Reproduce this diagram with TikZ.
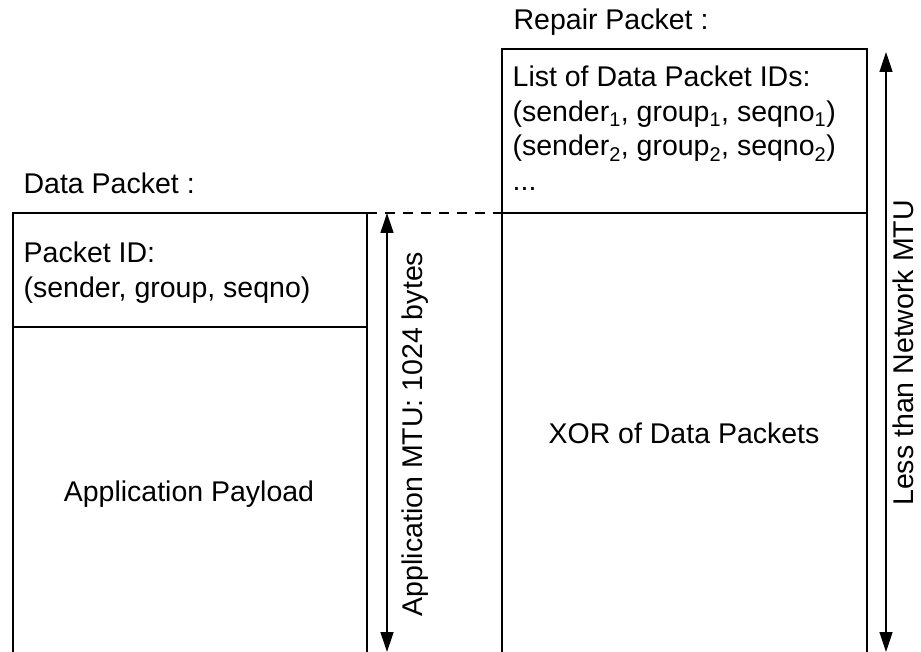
\documentclass[tikz,border=0pt]{standalone}
\usepackage{fontspec}
\setmainfont{Liberation Sans}
\usetikzlibrary{arrows.meta}

\begin{document}
\begin{tikzpicture}[x=1pt,y=-1pt,line width=1.3pt,
  >={Triangle[length=20pt,width=13pt]},
  every node/.style={inner sep=0pt,font=\fontsize{28.5}{34.5}\selectfont},
  txt/.style={anchor=base west}]
  \useasboundingbox (0,0) rectangle (921,652);
  % data packet
  \coordinate (dtl) at (13,213);
  \coordinate (dtr) at (367,213);
  \draw (13,652) -- (dtl) -- (dtr) -- (367,652);
  \draw (13,327) -- (367,327);
  \node [txt] (dtitle) at (23,194) {Data Packet :};
  \node [txt] (pid) at (23,263) {Packet ID:};
  \node [txt] (pidval) at (23,298) {(sender, group, seqno)};
  \node [anchor=base] (payload) at (189,501) {Application Payload};
  % repair packet
  \coordinate (rml) at (502,213);
  \coordinate (rmr) at (867,213);
  \draw (502,652) -- (502,49) -- (867,49) -- (867,652);
  \draw (rml) -- (rmr);
  \node [txt] (rtitle) at (513,30) {Repair Packet :};
  \node [txt] (ids) at (512,87) {List of Data Packet IDs:};
  \node [txt] (idone) at (512,121.5) {(sender\textsubscript{1}, group\textsubscript{1}, seqno\textsubscript{1})};
  \node [txt] (idtwo) at (512,156) {(sender\textsubscript{2}, group\textsubscript{2}, seqno\textsubscript{2})};
  \node [txt] (idmore) at (512,190.5) {...};
  \node [anchor=base] (xor) at (684,443) {XOR of Data Packets};
  \draw [dash pattern=on 10pt off 8pt] (dtr) -- (rml);
  % sizes
  \coordinate (amtutop) at (387,213);
  \coordinate (amtubot) at (387,652);
  \draw [<->] (amtubot) -- (amtutop);
  \node [anchor=base,rotate=90] (amtu) at (422,434) {Application MTU: 1024 bytes};
  \coordinate (nmtutop) at (886,52);
  \coordinate (nmtubot) at (886,652);
  \draw [<->] (nmtubot) -- (nmtutop);
  \node [anchor=base,rotate=90] (nmtu) at (913,353) {Less than Network MTU};
\end{tikzpicture}
\end{document}
